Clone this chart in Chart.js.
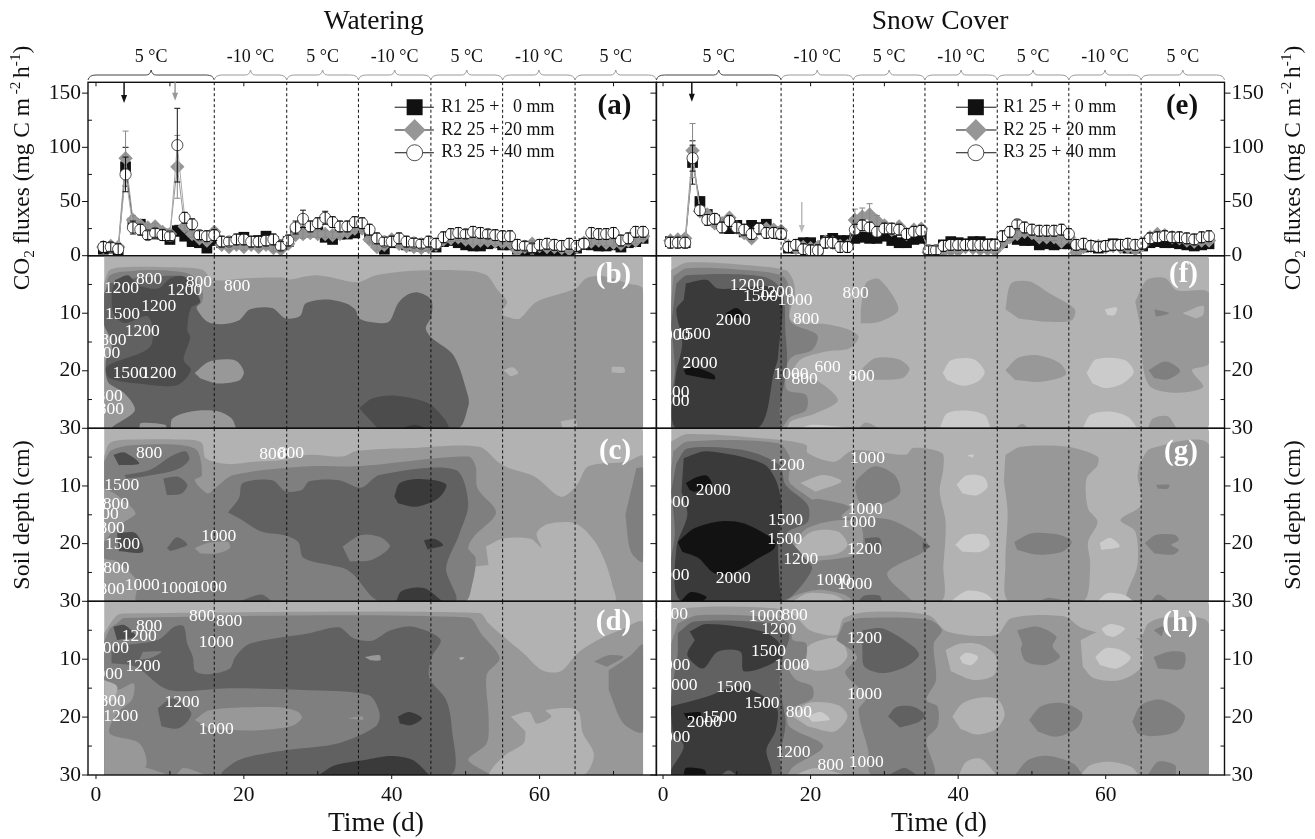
<!DOCTYPE html>
<html>
<head>
<meta charset="utf-8">
<title>Soil CO2 fluxes and concentrations</title>
<script src="https://cdn.jsdelivr.net/npm/chart.js@4/dist/chart.umd.js"></script>
<style>
  html, body { margin: 0; background: #fff; }
  canvas { position: absolute; left: 0; top: 0; }
</style>
</head>
<body>
<script>
// flux series, one value per day from day 1 to day 74
const fluxA_R1 = [6,7,5,82,30,29,22,20,20,15,23,18,13,12,7,14,12,12,13,17,12,14,18,13,10,13,22,22,22,22,17,15,20,20,21,25,18,12,6,12,12,10,9,9,9,8,13,14,12,10,9,9,11,12,10,10,6,5,6,5,5,5,4,3,7,11,10,9,9,10,8,12,13,16];
const fluxA_R2 = [8,9,8,90,33,28,26,27,22,20,82,27,20,16,14,22,10,8,10,8,10,8,10,7,6,11,19,20,21,20,20,19,20,22,25,25,15,8,10,15,11,9,8,7,8,10,15,16,17,15,13,14,14,13,12,12,5,8,11,9,8,8,7,6,8,12,13,14,12,12,11,14,14,18];
const fluxA_R3 = [8,8,6,75,26,24,19,21,19,18,102,35,29,19,18,19,13,13,15,15,13,13,14,15,9,14,26,34,27,30,35,31,27,27,31,30,24,16,13,13,16,13,12,11,13,11,17,20,21,20,22,21,20,19,18,18,10,9,7,10,11,10,9,11,9,11,21,20,20,21,14,16,22,22];
const errA_R1 = [3,3,3,18,4,3,3,3,3,3,5,4,3,3,3,3,3,3,3,3,3,3,3,3,3,3,3,3,3,3,3,3,3,3,3,3,3,3,3,3,3,3,3,3,3,3,3,3,3,3,3,3,3,3,3,3,3,3,3,3,3,3,3,3,3,3,3,3,3,3,3,3,3,3];
const errA_R2 = [3,3,3,25,4,3,3,3,3,3,29,4,3,3,3,3,3,3,3,3,3,3,3,3,3,3,3,4,3,3,3,3,3,3,3,3,3,3,3,3,3,3,3,3,3,3,3,3,3,3,3,3,3,3,3,3,3,3,3,3,3,3,3,3,3,3,3,3,3,3,3,3,3,3];
const errA_R3 = [5,4,5,16,6,5,4,4,5,4,34,5,5,4,5,5,5,4,5,5,5,5,5,5,4,5,6,8,5,5,6,5,5,5,5,5,5,5,4,5,5,5,4,4,5,5,5,5,5,4,5,5,4,5,5,5,5,4,4,5,5,5,5,5,5,5,5,5,5,5,5,5,5,5];
const fluxE_R1 = [13,13,12,86,50,38,33,30,25,28,22,28,26,29,22,20,7,7,12,12,6,14,16,14,14,16,17,16,16,18,14,12,12,15,16,2,5,10,13,12,11,13,13,11,11,12,18,15,14,14,10,11,10,11,11,6,8,9,7,9,11,10,7,7,9,12,13,12,12,11,10,9,10,11];
const fluxE_R2 = [14,15,16,97,41,38,30,30,35,26,21,16,25,25,24,23,9,7,8,7,8,13,12,9,9,33,36,38,32,28,24,27,20,24,25,3,2,4,5,5,8,7,6,6,5,12,17,20,22,21,17,17,17,13,17,3,8,9,9,8,9,8,8,6,10,17,20,19,17,16,14,13,14,14];
const fluxE_R3 = [12,12,12,90,42,33,34,26,32,26,24,20,25,21,21,20,8,10,6,5,5,12,12,8,8,24,28,26,22,25,25,24,20,22,23,5,5,9,10,10,10,10,10,10,10,18,22,29,26,24,23,23,23,24,20,10,11,9,8,9,10,10,11,10,11,16,17,18,17,17,16,15,17,18];
const errE_R1 = [3,3,3,20,4,3,3,3,3,3,3,3,3,3,3,3,3,3,3,3,3,3,3,3,3,3,3,3,3,3,3,3,3,3,3,3,3,3,3,3,3,3,3,3,3,3,3,3,3,3,3,3,3,3,3,3,3,3,3,3,3,3,3,3,3,3,3,3,3,3,3,3,3,3];
const errE_R2 = [3,3,3,25,4,3,3,3,3,3,3,3,3,3,3,3,3,3,3,3,3,3,3,3,3,10,8,10,5,3,3,3,3,3,3,3,3,3,3,3,3,3,3,3,3,3,3,3,3,3,3,3,3,3,3,3,3,3,3,3,3,3,3,3,3,3,3,3,3,3,3,3,3,3];
const errE_R3 = [5,5,5,12,5,5,5,5,5,5,5,5,5,5,5,5,5,5,5,5,5,5,5,5,5,5,5,5,5,5,5,5,5,5,5,4,4,5,5,5,5,5,5,5,5,5,5,4,5,5,5,5,5,5,5,5,5,5,5,5,5,5,5,5,5,5,5,5,5,5,5,5,5,5];
const fluxDays = [1,2,3,4,5,6,7,8,9,10,11,12,13,14,15,16,17,18,19,20,21,22,23,24,25,26,27,28,29,30,31,32,33,34,35,36,37,38,39,40,41,42,43,44,45,46,47,48,49,50,51,52,53,54,55,56,57,58,59,60,61,62,63,64,65,66,67,68,69,70,71,72,73,74];

const seriesNames = ['R1 25 +   0 mm', 'R2 25 + 20 mm', 'R3 25 + 40 mm'];
const changeDays = [16, 25.8, 35.5, 45.3, 55, 64.8];
const tempLabels = ['5 °C', '-10 °C', '5 °C', '-10 °C', '5 °C', '-10 °C', '5 °C'];
const xTicks = [0, 10, 20, 30, 40, 50, 60, 70];
const fluxTicks = [0, 25, 50, 75, 100, 125, 150];
const depthTicks = [5, 10, 15, 20, 25, 30];
const shades = ['#cbcbcb', '#b2b2b2', '#989898', '#7f7f7f', '#616161', '#4c4c4c', '#3a3a3a', '#121212'];
const baseShape = [1, 1.1,-1, 73.7,-1, 74,0.6, 74,29.4, 73.7,31, 1.1,31];

// contour regions, painted in order: [shade, day,depth, day,depth, ...]
const contourB = [baseShape,
  [2, 1.1,4.8, 1.85,2.5, 3.85,2, 9.35,2, 14.35,2.4, 15.85,4.2, 20.35,3.9, 25.35,3.8, 25.85,4.2, 29.85,3.4, 35.35,4.6, 37.85,3.4, 42.85,2.6, 50.35,2.6, 52.85,3.4, 54.35,6, 55.6,8, 54.85,10, 56.35,10.9, 57.35,10.9, 59.6,8, 64.85,5.7, 66.35,3.9, 68.85,3.6, 71.85,4.8, 74,5.85, 74,30, 1.1,30],
  [3, 1.3,6.4, 1.9,3.4, 5.4,2.6, 9.9,2.6, 13,3.4, 14.4,6, 14.2,8.3, 12.4,8.9, 1.2,9.9],
  [4, 1.85,4.8, 5.35,3.9, 12.85,3.9, 14.1,8, 13.6,9.1, 15.1,11.5, 17.1,11.9, 19.35,11.2, 20.85,9.3, 23.85,9.1, 25.6,10.9, 27.6,10.5, 28.35,8.3, 31.1,7.6, 33.85,8.3, 35.1,9.4, 35.6,10.9, 37.6,11.6, 39.6,11.5, 40.85,8.3, 42.1,6.8, 43.6,6.4, 45.35,7.7, 45.35,10.6, 44.6,12.6, 45.35,14.2, 48.35,17.3, 50.35,24.5, 50.35,26.2, 48.85,30, 2.35,30, 5.25,26.9, 3.85,23.9, 1.6,21.9, 1.35,18.1, 2.1,16.4, 1.85,14.1, 1.1,12, 1.1,6.5],
  [5, 2.6,4.2, 4.35,3.4, 5.6,5.1, 8.35,5.7, 10.1,3.9, 11.85,3.6, 13.35,6.5, 14.1,8, 12.85,9.1, 12.35,12.9, 12.75,14.2, 11.85,18.1, 12.85,19.9, 10.95,22.5, 6.35,22.3, 1.85,21.3, 1.45,19.3, 7.35,15.8, 7.1,10.6, 3.85,11.7, 2.35,10, 2.1,6.5],
  [2, 13.35,20.4, 15.35,18.4, 18.85,18.2, 20,20.2, 19.35,21.7, 16.35,22.2, 14.1,21.3],
  [2, 10.1,30, 10.35,28.3, 12.85,27.1, 16.35,27, 18.35,28.3, 18.95,30],
  [2, 5.85,30, 6.1,29.1, 9.35,29.4, 9.6,30],
  [5, 35.6,26.5, 37.35,24.8, 40.35,24.3, 44.85,25.6, 47.1,28.3, 47.6,30, 38.35,30, 37.1,28.6],
  [6, 41.35,30, 43.1,29.4, 44.6,30],
  [1, 55.1,19.9, 56.35,19.4, 57.1,20.4, 56.1,21],
  [1, 69.75,19.3, 71.35,19.4, 71.5,20.3, 69.75,20.3],
  [1, 62.85,28.8, 64.85,28.5, 64.95,30, 63.1,30]
];

const contourC = [baseShape,
  [2, 1.1,4.9, 1.85,2.6, 3.85,2, 12.85,2, 14.35,2.6, 14.85,5.2, 17.85,6.2, 21.35,5.8, 25.35,5.5, 28.85,4.6, 33.35,4.9, 35.35,3.9, 42.85,3.4, 51.85,3.2, 54.35,5.8, 55.85,6.9, 59.35,8.4, 62.35,11.6, 63.35,11.8, 65.1,9.8, 66.6,6.6, 71.85,5.8, 74,4.9, 74,30, 1.1,30],
  [1, 52.75,20.5, 55.1,19.1, 58.85,19.2, 60.25,20.7, 59.6,18.2, 61.1,16.6, 64.85,16.5, 67.35,19.4, 68.85,23.1, 69.85,27.2, 70.1,30, 50.1,30, 50.85,27.2, 50.85,24.3, 53.1,23.7],
  [3, 1.1,5.8, 2.1,3.8, 5.35,2.9, 13.35,3.5, 14.35,8.1, 13.35,9, 15.1,11.3, 16.1,10.4, 18.6,8.1, 28.85,6.6, 35.35,6.6, 50.35,4.9, 51.35,6.6, 51.6,10.4, 54.1,14.6, 51.1,18.8, 50.35,20.8, 51.35,22.5, 50.85,27.2, 49.85,30, 5.6,30, 5.6,26.6, 2.85,23.1, 1.1,22.5, 1.1,19.7, 3.85,16.2, 5.35,14.7, 2.85,11.6, 1.1,10.4],
  [4, 17.85,14.6, 19.35,12.1, 19.85,9.5, 23.85,9, 25.6,10.9, 27.85,10.7, 28.85,9.2, 32.85,9, 35.85,10.3, 38.35,8.1, 48.6,7.2, 50.35,13, 49.1,18.5, 47.35,24.3, 48.6,30, 38.35,30, 34.85,25.4, 33.6,24.3, 28.1,22.5, 27.35,19.7, 25.35,18.5, 22.35,17.9, 19.35,15.6],
  [3, 33.35,20.5, 35.85,18.5, 38.35,18.8, 39.75,20.5, 37.35,22.8, 34.35,23.1],
  [6, 40.35,11.8, 41.1,9.5, 43.85,8.8, 47.35,9.7, 46.35,12.1, 43.35,13.6, 40.85,13],
  [6, 44.35,19.4, 45.85,19.2, 46.95,20.3, 44.85,21],
  [6, 40.6,30, 41.35,28.2, 44.35,27.7, 46.85,30],
  [5, 2.35,4.6, 3.85,4.2, 5.85,6.1, 3.1,6.4],
  [4, 3.85,8.1, 7.35,7.2, 10.1,4.9, 12.1,4, 12.6,5.5, 10.85,7.2, 6.35,8.4, 4.1,8.7],
  [4, 9.1,8.7, 11.1,8.4, 12.35,9.8, 11.6,11.3, 9.6,11.6],
  [5, 2.85,18.2, 5.35,18.2, 6.35,21.4, 3.1,21.3],
  [4, 9.6,20.8, 10.95,18.9, 12.35,20.2, 10.1,21.3],
  [2, 13.35,20.8, 15.1,19.9, 17.85,19.7, 18.1,20.8, 16.35,21.7, 14.1,21.7],
  [4, 19.35,30, 22.35,28.8, 23.85,30],
  [3, 73.1,6.9, 74,6.9, 74,23.1, 72.35,21.4, 71.6,15]
];

const contourD = [baseShape,
  [2, 1.1,5.5, 2.85,2.4, 4.35,2.1, 51.85,2, 53.1,3.8, 55.1,6.1, 57.85,9, 60.35,11.9, 62.85,12.1, 65.1,9, 67.85,6.7, 70.85,5, 74,3.7, 74,30, 1.1,30],
  [1, 56.1,19.9, 58.6,19.1, 59.6,21.1, 61.6,19.9, 60.85,18.8, 65.1,18.8, 65.85,22.8, 67.35,26.5, 65.85,30, 53.35,30, 55.1,26.8, 57.85,24.5, 58.1,22.5],
  [3, 1.85,4.7, 2.85,3.8, 3.85,2.9, 50.35,2.8, 52.05,5.5, 54.6,9.8, 52.85,12.7, 53.1,19.9, 52.85,24.5, 50.35,27.4, 53.1,30, 1.1,30, 1.1,7],
  [2, 1.1,13.6, 2.85,15.3, 5.1,14.2, 4.85,17, 2.85,19.3, 1.85,22.8, 5.85,24.5, 6.85,28, 5.6,30, 1.1,30],
  [1, 1.1,13.6, 2.85,14.7, 2.35,17, 1.1,17.6],
  [3, 69.35,11.9, 72.35,9.3, 74,7.5, 74,22.5, 71.35,21.1, 69.35,15.3],
  [3, 67.35,10.4, 69.35,9.3, 71.35,9.6, 69.1,11.3],
  [4, 2.1,7.8, 8.35,6.7, 10.6,4.4, 11.85,4.3, 12.35,7.3, 13.1,9.6, 13.45,12.1, 15.35,12.6, 18.1,11.6, 18.85,9.6, 20.85,7.3, 28.85,5.5, 32.85,4.5, 34.85,6.4, 37.35,6.8, 39.85,5, 42.85,4.4, 46.6,6.6, 45.35,9.8, 45.1,13.3, 47.35,17, 48.1,21.6, 47.85,30, 17.1,30, 19.35,27.4, 25.85,25.7, 32.85,24.5, 37.85,21.6, 38.35,19.3, 36.85,16.2, 27.85,15.3, 17.85,15, 9.85,15.3, 5.35,11.3, 2.1,10.7],
  [4, 8.35,18.5, 10.35,16.8, 12.85,19.1, 12.35,20.8, 10.95,22, 8.85,21.6],
  [2, 13.35,20.5, 15.35,18.8, 24.85,18.3, 27.35,19.1, 27.85,20.2, 26.35,21.6, 21.35,22.3, 15.35,22],
  [3, 13.6,9.6, 16.1,9.3, 16.6,11.3, 14.35,12.6],
  [3, 6.35,8.7, 8.85,8.7, 7.35,9.8, 5.85,10.1],
  [6, 30.1,30, 32.35,28.3, 36.35,27.4, 39.85,26.7, 42.85,27.4, 45.1,30],
  [6, 40.85,19.9, 42.35,19.1, 44.1,20.2, 42.6,21.4, 41.1,21.1],
  [5, 2.35,4.4, 3.85,4.1, 5.35,6.1, 2.85,6.7],
  [2, 5.6,30, 6.1,28.6, 9.85,30],
  [2, 10.85,30, 11.85,28.8, 14.85,30],
  [2, 36.35,9.6, 38.35,9.3, 38.45,10.2, 37.1,10.2],
  [2, 34.1,20.2, 36.1,19.9, 36.1,20.5],
  [1, 49.1,9.7, 49.85,9.7, 49.35,10.2]
];

const contourF = [baseShape,
  [2, 1.1,2.5, 3.3,1.2, 11,1.6, 16.6,2.5, 17.6,4.2, 17.9,6.5, 17.3,11.2, 22.2,11.9, 25.3,12.9, 26.5,14.1, 25.3,16.1, 21.9,16.7, 18.6,18.1, 17.6,20.7, 20.7,21.6, 23.7,25.1, 20.7,27.4, 17.3,28.8, 16.6,30, 1.1,30],
  [3, 1.4,3.6, 3.3,2.2, 11,2.5, 16.3,3.6, 17.2,6.5, 17.3,11.5, 20.9,13.8, 20.2,16.4, 17.6,17.5, 16.8,19, 16.8,23.3, 19.4,24.2, 19.4,26.8, 17.3,28, 15.8,30, 1.1,30, 1.1,8],
  [4, 1.8,4.8, 3.3,3.4, 13.5,3.6, 16.1,6, 16.6,13.5, 16.8,18.7, 15.8,26.8, 15.8,30, 1.1,30, 1.6,20, 1.1,12],
  [6, 3.1,4.8, 5.9,4.2, 7.4,5.7, 15.6,6, 15.6,17.5, 15.1,19.9, 12.8,30, 1.8,30, 1.7,21, 2.6,15.2, 1.8,9.4, 2.8,7.7],
  [7, 8.5,10, 10,9.1, 11,10.6, 8.9,10.9],
  [7, 2.8,19.9, 4.1,19.3, 6.9,20.7, 7,21.5, 3.1,20.7],
  [2, 26.8,9.3, 27.5,4.8, 29.3,4.1, 31.9,9.3, 29.3,11.5, 26.8,11.8],
  [2, 27,19.6, 28.8,17.8, 31.9,18, 33.4,19.6, 32.4,21.3, 28.3,21.6],
  [2, 46.4,9.3, 47.2,4.8, 49.7,4.5, 52.3,6.5, 55.8,9.3, 55.4,11.2, 52.3,11.5, 48.2,10.9],
  [2, 46.4,19.9, 48.2,17.7, 50.8,17.3, 53.8,18.7, 54.6,20.7, 51.3,21.9, 47.7,21.6],
  [2, 26.5,30, 27.5,29, 29.3,30],
  [2, 47.7,30, 48.7,29.2, 49.5,30],
  [0, 37.9,20.4, 39,18.2, 42.1,18, 43.6,20.2, 42.6,21.9, 40.6,22.6, 38.5,21.6],
  [0, 57.4,20.4, 58.7,18, 62.5,18.1, 63.8,20.2, 62.3,22.2, 60,23, 58.2,22.2],
  [0, 37.5,30, 38.5,27.4, 41.1,26.9, 43.6,27.7, 44.4,30],
  [0, 56.9,30, 57.9,27.7, 60.5,27.1, 63,28, 64.3,30],
  [0, 59.9,9.3, 61.5,9, 61.2,10.3, 60.2,10.3],
  [0, 18.6,30, 20.2,29.4, 23.7,29.7, 25.3,30],
  [2, 64,8, 65.6,4.2, 68.1,3.9, 69.6,6, 74,6.5, 74,18.7, 71.7,19.9, 73.2,22.8, 69.6,23.8, 66.1,22.8, 65.1,19.6, 64.8,13],
  [3, 65.8,19.9, 68.1,18.4, 70.1,20, 68.4,21.5, 66.6,21.3],
  [1, 70.4,10, 73.2,8.7, 73.2,10.3, 72.2,10.9],
  [3, 66.6,9.3, 68.6,10, 66.8,10.6],
  [2, 65.7,30, 66.4,28.3, 68.4,27.9, 69.6,30]
];

const contourG = [baseShape,
  [2, 1.1,2.3, 3.3,1, 15.6,2, 19.4,2.9, 19.6,4.3, 23.2,5.8, 25.8,3.8, 32.9,4.6, 33.9,3.4, 37.8,4.3, 38,6.9, 37.5,11, 38.3,16.2, 38,23.7, 37.5,30, 1.1,30],
  [2, 46.4,4.6, 48.5,3.2, 54.8,3.2, 58.9,4.9, 58.9,6.4, 57.4,8.7, 57.6,13.9, 58.9,16.2, 57.6,19.7, 57.9,23.7, 56.9,30, 46.9,30, 46.4,23.7, 46.7,14.5, 46.2,9.2],
  [2, 64.5,6.4, 66.1,3.5, 74,2.9, 74,30, 63,30, 64.3,23.7, 64,17.9, 62,15.9, 64.8,13.3, 64.3,8.4],
  [3, 1.4,4, 3.3,2.3, 15.6,2.6, 17.3,5.5, 17.1,9.2, 19.6,11.6, 25.3,13.6, 24.2,15.3, 30.9,15.9, 36,20.5, 30.4,25.1, 33.4,29.5, 33.9,30, 16.6,30, 1.1,30, 1.1,7],
  [2, 17.1,9.5, 19.6,8.1, 22.7,8.1, 25.8,8.7, 22.7,11.6, 20.2,12.4],
  [1, 18.6,9.5, 21.7,8.1, 24.2,9.2, 20.7,11],
  [2, 17.1,20.8, 19.6,17.3, 24.2,15.9, 26.8,16.8, 26.8,21.4, 24.2,22.5, 19.6,23.1],
  [1, 17.6,20.8, 20.2,17.9, 23.7,17.9, 25,20.2, 23.7,21.7, 19.6,22.3],
  [3, 26.2,9, 28.6,6.6, 31.4,8.1, 32.1,11.3, 29.3,13.3, 26.8,13, 26,10.4],
  [4, 27.3,19.1, 29.3,19, 29.6,21.1, 27.8,21.7],
  [4, 26.5,30, 27.3,29, 29.3,29, 29.7,30],
  [4, 35.2,19.7, 36.2,20.5, 35.2,21.1],
  [2, 16.6,30, 18.1,28.9, 21.2,28, 24.7,28.9, 25.8,30],
  [1, 17.6,30, 19.6,28.6, 23.2,28.9, 24.7,30],
  [4, 1.8,6.1, 3.3,3.5, 11,3.8, 15.8,6.4, 16.6,9.8, 19.6,13.3, 19.6,16.2, 16.8,18.2, 18.9,22, 20.2,24.3, 17.6,28.9, 15.8,30, 1.1,30, 1.6,18, 1.1,11],
  [6, 2.8,5.2, 5.9,4, 13.5,6.1, 15.3,9, 16.1,13.9, 15.6,20.8, 15.8,27.2, 15.8,30, 2.5,30, 1.8,20.8, 3.3,15, 2.5,11],
  [7, 2,19.7, 4.3,17.3, 7.9,16.1, 11,16.5, 15.1,19.4, 15.1,20.8, 13,22.5, 9.4,25.1, 6.9,25.1, 4.8,22.5, 2.6,21.4],
  [7, 3.1,9.5, 4.3,8.6, 5.9,8.2, 6.6,9.8, 4.3,11, 3.6,10.7],
  [7, 2.4,30, 3.8,28.4, 5.9,29.2, 5.4,30],
  [0, 39.8,9.8, 41.1,8.2, 43.4,8.4, 44,10.1, 42.6,11.6, 40.6,11.3],
  [0, 39.6,20.2, 41.1,18.5, 43.6,18.5, 44.3,20.2, 43.1,21.4, 40.6,21.4],
  [0, 39,30, 41.1,28.2, 43.6,28.6, 44.9,30],
  [0, 58.9,30, 60.2,28.6, 62.5,28.9, 63.8,30],
  [0, 59.2,19.9, 60.6,19, 61.9,20.5, 59.4,21.1],
  [0, 41.2,4.7, 42.1,4.5, 42,5.1],
  [3, 47.6,19.7, 50,18.2, 53.8,18.5, 55.4,19.7, 54.1,21.4, 50.8,21.9, 48,21.1],
  [3, 65.3,19.9, 66.8,18.5, 69.4,18.5, 69.9,19.4, 68.9,20.2, 69.9,21.1, 69.1,21.9, 66.6,21.7],
  [3, 66.8,9.8, 68.6,9.8, 68.4,10.5, 67.1,10.5],
  [3, 51,30, 52.3,29.4, 54.8,30],
  [3, 66.1,30, 67.1,28.8, 68.6,30]
];

const contourH = [baseShape,
  [2, 1.1,3.2, 2.8,1.2, 15.1,1.2, 17.9,2.6, 19.9,5, 23.5,5.8, 24.5,2.9, 28.3,1.8, 36,2.4, 38.5,5.2, 45.2,5.8, 47.2,2.9, 54.3,2.6, 56.9,4.7, 64.5,6.4, 65.8,3.8, 68.1,2.8, 74,3.9, 74,30, 1.1,30],
  [1, 18.6,9.3, 20.2,7.3, 23.7,6.4, 25,9.3, 23.7,11.3, 20.7,12, 18.9,11],
  [1, 38.3,8.4, 40.3,7.3, 43.1,7.5, 45.2,9.6, 44.9,12.7, 42.1,13.6, 39,12.1],
  [1, 56.6,6.7, 59.4,5.2, 64.5,6.7, 64.8,11.3, 62,13.6, 58.4,13.3, 56.9,11.3],
  [1, 17.6,19.9, 19.6,17.6, 23.7,17.9, 25,19.9, 23.2,22.5, 19.6,21.6],
  [1, 39.2,19.9, 40.6,17.6, 43.1,16.6, 45.4,17, 46.3,19.6, 45.2,22, 42.6,23, 40.3,22],
  [1, 40.1,30, 41.1,27.7, 43.1,27.2, 45.2,30],
  [1, 56.6,30, 57.9,28.3, 60.5,27.7, 63.5,28.6, 64.5,30],
  [1, 17.9,30, 20.7,28.8, 24.7,30],
  [1, 1.1,13.6, 1.8,13, 2,16.5, 1.1,17],
  [3, 24.5,3.8, 26.8,2.9, 36,3.2, 37.8,5, 36.7,7.3, 37,13.6, 35.7,17, 37.2,18.2, 37.2,21.6, 35.7,24, 36.7,30, 28.3,30, 27.8,25.7, 26.5,18.8, 27.6,16.5, 24.7,12.4, 26.3,9.6, 23.5,6.7],
  [3, 2,3.8, 4.8,2.4, 15.6,2.9, 17.3,4.4, 17.6,6.7, 19.4,7.3, 19.1,10.7, 17.1,11.6, 18.1,13.6, 20.2,14.7, 20.2,16.8, 17.1,18.8, 17.1,21.6, 21.7,25, 17.6,28.6, 16.6,30, 1.1,30, 1.1,7.3],
  [4, 2,5.5, 4.3,3.5, 15.3,3.9, 17.1,5.8, 16.3,9.6, 15.8,14.2, 16.6,21.1, 15.8,26.8, 15.8,30, 1.1,30, 1.1,17, 2,9],
  [6, 3.6,5.2, 5.9,3.9, 13.5,5.2, 15.8,7.3, 15.6,10.1, 11,12.1, 10.5,8.7, 7.4,8.7, 5.4,11.6, 3.3,9.3, 4.3,6.7],
  [6, 1,18.2, 5.9,16.5, 10.5,14.7, 15.3,18.2, 15.3,22.2, 14,25.7, 14.5,30, 1.1,30, 2.8,25.1, 1.3,22.5],
  [7, 2.8,30, 3.1,28.8, 5.6,29.1, 5.9,30],
  [7, 2.8,19.3, 5.1,19.2, 4.8,20.5, 3.3,20.5],
  [4, 7.9,30, 8.9,29.2, 9.9,30],
  [4, 27,5, 29.8,4.7, 33.9,7.8, 34.7,9.3, 32.9,11.3, 29.8,12.4, 27.3,11.3, 27,8.4],
  [4, 30.5,19.9, 31.6,18.3, 33.9,18.2, 35.5,19.6, 34.7,20.8, 32.1,21.8],
  [3, 48,5, 50.8,4.4, 53.3,6.1, 52.8,7.8, 53.8,9.6, 51.8,11, 49.2,10.4, 48.5,8.4, 48.7,7.3],
  [3, 49.6,20.5, 51.3,18.1, 54.3,17.6, 56.8,19.3, 56.1,21.9, 53.3,23.4, 50.8,22.5],
  [3, 47.7,30, 49.5,27.4, 52.3,26.7, 55.6,28, 56.9,30],
  [4, 30.6,30, 32.7,28.8, 34.4,30],
  [3, 63.6,20.8, 64.8,17.9, 67.6,17, 70.7,19.6, 69.6,22.5, 66.1,23.3, 64.3,22.8],
  [3, 66.5,9.6, 68.6,8.7, 70.7,9, 70.4,11.6, 67.1,11.6],
  [3, 66.5,5, 67.9,4.3, 67.6,6.1],
  [3, 65.7,30, 67.1,27.7, 69.4,28.3, 69.5,30],
  [0, 40.2,9.7, 41.1,8.9, 42.7,9.6, 41.8,11, 40.6,10.7],
  [0, 59.4,4.7, 60.7,3.9, 62.6,4.7, 61.2,6.1, 60,5.8],
  [0, 58.6,9.6, 60,8.1, 62,8.4, 63.4,9.8, 61.5,11.6, 59.2,11],
  [0, 19.6,19.9, 21.4,19.1, 22.6,20.4, 20.2,20.8]
];

// contour labels: [day, depth, text]
const labelsB = [[7.2,4.2,'800'],[3.45,5.7,'1200'],[12,6.1,'1200'],[13.9,4.7,'800'],[19.1,5.4,'800'],[8.5,8.9,'1200'],[3.6,10.2,'1500'],[6.25,13.1,'1200'],[2.35,14.8,'800'],[1.5,17,'800'],[4.6,20.4,'1500'],[8.5,20.4,'1200'],[1.85,24.5,'800'],[2,26.7,'800']];
const labelsC = [[7.2,4.3,'800'],[23.85,4.5,'800'],[26.35,4.3,'800'],[3.5,9.9,'1500'],[2.7,13.2,'800'],[1.3,15,'800'],[2.1,17.3,'800'],[3.6,20.1,'1500'],[16.6,18.8,'1000'],[2.75,24.3,'800'],[2.1,28,'800'],[6.25,27.2,'1000'],[11.1,27.7,'1000'],[15.35,27.6,'1000']];
const labelsD = [[7.2,4.3,'800'],[5.85,6.1,'1200'],[2.1,8.1,'1000'],[1.25,12.6,'1000'],[6.35,11.2,'1200'],[14.35,2.65,'800'],[18,3.5,'800'],[16.25,7.1,'1000'],[2.25,17.3,'800'],[3.35,19.8,'1200'],[11.65,17.5,'1200'],[16.25,22.1,'1000']];
const labelsF = [[11.4,5.2,'1200'],[15.3,6.4,'1200'],[13.2,7.1,'1500'],[17.9,7.8,'1000'],[9.5,11.2,'2000'],[19.4,11,'800'],[4.1,13.6,'1500'],[1.3,13.8,'1000'],[5,18.7,'2000'],[17.35,20.6,'1000'],[19.2,21.5,'800'],[22.3,19.5,'600'],[26.9,20.9,'800'],[26.1,6.5,'800'],[1.8,23.7,'800'],[1.8,25.4,'800']];
const labelsG = [[16.85,6.4,'1200'],[27.7,5.3,'1000'],[6.8,10.7,'2000'],[1.2,12.8,'1000'],[27.4,14,'1000'],[26.5,16.4,'1000'],[16.6,15.9,'1500'],[16.5,19.2,'1500'],[18.65,22.8,'1200'],[27.3,21,'1200'],[23.1,26.3,'1000'],[26,27,'1000'],[9.5,26,'2000'],[1.2,25.5,'1000']];
const labelsH = [[1,2.25,'1000'],[14,2.65,'1000'],[17.85,2.5,'800'],[15.7,4.8,'1200'],[27.3,6.4,'1200'],[14.3,8.6,'1500'],[17.45,11,'1000'],[1.3,11,'1000'],[2.3,14.45,'1000'],[9.6,14.9,'1500'],[13.4,17.6,'1500'],[18.4,19.2,'800'],[7.65,20,'1500'],[5.6,20.9,'2000'],[1.3,23.5,'1000'],[27.3,16,'1000'],[17.6,26.1,'1200'],[22.7,28.3,'800'],[27.55,27.9,'1000']];

const FONT = '"Liberation Serif"';
const INK = '#111';
const AXIS_ROOM = 50;
const LEFT_SIDE = { left: 88, right: 656.4, xMin: -1.08, xMax: 75.8, axis: 'left' };
const RIGHT_SIDE = { left: 656.4, right: 1224.5, xMin: -0.9, xMax: 76.1, axis: 'right' };

function contourDatasets(shapes) {
  const sets = shapes.map(function (s) {
    const pts = [];
    for (let i = 1; i < s.length; i += 2) pts.push({ x: s[i], y: s[i + 1] });
    return { data: pts, showLine: true, fill: 'shape', backgroundColor: shades[s[0]], borderWidth: 0, pointRadius: 0, tension: s === baseShape ? 0 : 0.3 };
  });
  // first dataset is painted last
  return sets.reverse();
}

function changeLines(yMin, yMax) {
  return changeDays.map(function (d) {
    return { data: [{ x: d, y: yMin }, { x: d, y: yMax }], showLine: true, borderColor: INK, borderWidth: 1, borderDash: [3, 2.5], pointRadius: 0, fill: false };
  });
}

function fluxDataset(values, errors, style) {
  return Object.assign({
    data: fluxDays.map(function (d, i) { return { x: d, y: values[i] }; }),
    errors: errors, showLine: true, borderWidth: 1, fill: false, clip: false
  }, style);
}

const R1_STYLE = { borderColor: '#444', pointStyle: 'rect', pointRadius: 7.6, pointBackgroundColor: INK, pointBorderColor: INK, pointBorderWidth: 0, errColor: INK, legendRadius: 11.3 };
const R2_STYLE = { borderColor: '#999', pointStyle: 'rectRot', pointRadius: 7.2, pointBackgroundColor: '#969696', pointBorderColor: '#969696', pointBorderWidth: 0, errColor: '#888', legendRadius: 11 };
const R3_STYLE = { borderColor: '#aaa', pointStyle: 'circle', pointRadius: 5.6, pointBackgroundColor: '#fff', pointBorderColor: '#222', pointBorderWidth: 0.8, errColor: INK, legendRadius: 8 };

// spline overshoot must not leave the sampled time range
const contourClip = {
  id: 'contourClip',
  beforeDatasetsDraw(chart) {
    const cfg = chart.options.plugins.decor;
    if (cfg.flux) return;
    const a = chart.chartArea, x = chart.scales.x, ctx = chart.ctx;
    ctx.save();
    ctx.beginPath();
    ctx.rect(x.getPixelForValue(1.1), a.top, x.getPixelForValue(74) - x.getPixelForValue(1.1), a.bottom - a.top);
    ctx.clip();
  },
  afterDatasetsDraw(chart) {
    if (!chart.options.plugins.decor.flux) chart.ctx.restore();
  }
};

// error bars go on top of the marks, as in the figure
const errorBars = {
  id: 'errorBars',
  afterDatasetDraw(chart, args) {
    const ds = chart.data.datasets[args.index];
    if (!ds.errors) return;
    const ctx = chart.ctx, x = chart.scales.x, y = chart.scales.y;
    ctx.save();
    ctx.strokeStyle = ds.errColor;
    ctx.lineWidth = 1;
    ds.data.forEach(function (p, i) {
      const px = x.getPixelForValue(p.x), hi = y.getPixelForValue(p.y + ds.errors[i]), lo = y.getPixelForValue(Math.max(p.y - ds.errors[i], 0));
      ctx.beginPath();
      ctx.moveTo(px, hi); ctx.lineTo(px, lo);
      ctx.moveTo(px - 3, hi); ctx.lineTo(px + 3, hi);
      ctx.moveTo(px - 3, lo); ctx.lineTo(px + 3, lo);
      ctx.stroke();
    });
    ctx.restore();
  }
};

// frame, tick marks, labels and the rest of the annotations
const decor = {
  id: 'decor',
  afterDatasetsDraw(chart) {
    const ctx = chart.ctx, a = chart.chartArea, cfg = chart.options.plugins.decor;
    const x = chart.scales.x, y = chart.scales.y;
    ctx.save();
    ctx.textBaseline = 'middle';

    if (cfg.labels) {
      ctx.fillStyle = '#fff';
      ctx.font = '17.5px ' + FONT;
      ctx.textAlign = 'center';
      cfg.labels.forEach(function (l) {
        ctx.fillText(l[2], x.getPixelForValue(l[0]), y.getPixelForValue(l[1]));
      });
    }

    ctx.strokeStyle = INK;
    ctx.lineWidth = 1.4;
    ctx.strokeRect(a.left, a.top, a.right - a.left, a.bottom - a.top);
    ctx.lineWidth = 1;

    // y ticks: long ones outside on the axis side, short ones inside, all inside on the far side
    const axisX = cfg.axis === 'left' ? a.left : a.right;
    const sign = cfg.axis === 'left' ? 1 : -1;
    cfg.yTicks.forEach(function (v) {
      const py = y.getPixelForValue(v);
      const major = v % cfg.yMajor === 0;
      ctx.beginPath();
      if (major) { ctx.moveTo(axisX, py); ctx.lineTo(axisX - sign * 6, py); }
      else { ctx.moveTo(axisX, py); ctx.lineTo(axisX + sign * 4, py); }
      if (cfg.axis === 'left') { ctx.moveTo(a.right, py); ctx.lineTo(a.right - (major ? 6 : 4), py); }
      ctx.stroke();
    });
    if (cfg.topTicks) xTicks.forEach(function (v) {
      const px = x.getPixelForValue(v);
      ctx.beginPath(); ctx.moveTo(px, a.top); ctx.lineTo(px, a.top + 4); ctx.stroke();
    });
    if (cfg.bottomTicks) xTicks.forEach(function (v) {
      const px = x.getPixelForValue(v);
      ctx.beginPath(); ctx.moveTo(px, a.bottom);
      ctx.lineTo(px, v % 20 === 0 ? a.bottom + 4 : a.bottom - 4);
      ctx.stroke();
    });

    ctx.font = 'bold 29px ' + FONT;
    ctx.textAlign = 'center';
    ctx.fillStyle = cfg.letterColor;
    ctx.fillText(cfg.letter, cfg.letterX, cfg.letterY);

    if (cfg.flux) drawFluxExtras(chart, cfg);
    if (cfg.xTitle) {
      ctx.fillStyle = INK;
      ctx.font = '27.5px ' + FONT;
      ctx.fillText(cfg.xTitle, cfg.xTitleX, 824);
    }
    ctx.restore();
  }
};

function drawFluxExtras(chart, cfg) {
  const ctx = chart.ctx, x = chart.scales.x, y = chart.scales.y;
  // brace and temperature label over each phase
  const edges = [cfg.xMin].concat(changeDays, [cfg.xMax]);
  tempLabels.forEach(function (t, i) {
    const x0 = x.getPixelForValue(edges[i]), x1 = x.getPixelForValue(edges[i + 1]), mid = (x0 + x1) / 2;
    ctx.strokeStyle = i === 0 ? '#444' : '#999';
    ctx.lineWidth = 1;
    ctx.beginPath();
    ctx.moveTo(x0, 80);
    ctx.quadraticCurveTo(x0 + 1, 75, x0 + 8, 75);
    ctx.lineTo(mid - 5, 75);
    ctx.quadraticCurveTo(mid - 1, 75, mid, 70);
    ctx.quadraticCurveTo(mid + 1, 75, mid + 5, 75);
    ctx.lineTo(x1 - 8, 75);
    ctx.quadraticCurveTo(x1 - 1, 75, x1, 80);
    ctx.stroke();
    ctx.fillStyle = INK;
    ctx.font = '18px ' + FONT;
    ctx.textAlign = 'center';
    ctx.fillText(t, mid, 57);
  });

  ctx.font = '27.5px ' + FONT;
  ctx.fillText(cfg.flux.title, cfg.flux.titleX, 22);

  // arrows: [day, from, to, colour]
  cfg.flux.arrows.forEach(function (r) {
    const px = x.getPixelForValue(r[0]), y0 = y.getPixelForValue(r[1]), y1 = y.getPixelForValue(r[2]);
    ctx.strokeStyle = r[3];
    ctx.fillStyle = r[3];
    ctx.lineWidth = 1.5;
    ctx.beginPath(); ctx.moveTo(px, y0); ctx.lineTo(px, y1 - 5); ctx.stroke();
    ctx.beginPath(); ctx.moveTo(px - 3, y1 - 8); ctx.lineTo(px + 3, y1 - 8); ctx.lineTo(px, y1); ctx.closePath(); ctx.fill();
  });

  // legend
  const styles = [R1_STYLE, R2_STYLE, R3_STYLE];
  const rows = [137, 116, 95];
  seriesNames.forEach(function (name, i) {
    const py = y.getPixelForValue(rows[i]);
    ctx.strokeStyle = INK;
    ctx.lineWidth = 1;
    ctx.beginPath();
    ctx.moveTo(x.getPixelForValue(cfg.flux.legend[0]), py);
    ctx.lineTo(x.getPixelForValue(cfg.flux.legend[2]), py);
    ctx.stroke();
    const s = styles[i];
    ctx.fillStyle = s.pointBackgroundColor;
    ctx.strokeStyle = s.pointBorderColor;
    ctx.lineWidth = s.pointBorderWidth;
    Chart.helpers.drawPoint(ctx, { pointStyle: s.pointStyle, radius: s.legendRadius, borderWidth: s.pointBorderWidth }, x.getPixelForValue(cfg.flux.legend[1]), py);
    ctx.fillStyle = INK;
    ctx.font = '18px ' + FONT;
    ctx.textAlign = 'left';
    ctx.fillText(name, x.getPixelForValue(cfg.flux.legend[3]), py);
  });
  ctx.textAlign = 'center';
}

// page level axis titles, with real sub and superscripts
const axisTitles = {
  id: 'axisTitles',
  afterDraw(chart) {
    const cfg = chart.options.plugins.decor;
    if (!cfg.sideTitles) return;
    const ctx = chart.ctx;
    cfg.sideTitles.forEach(function (t) {
      ctx.save();
      ctx.translate(t.x, t.y);
      ctx.rotate(-Math.PI / 2);
      ctx.fillStyle = INK;
      ctx.textBaseline = 'alphabetic';
      ctx.textAlign = 'left';
      let total = 0;
      t.parts.forEach(function (p) {
        ctx.font = (p[1] ? t.size * 0.65 : t.size) + 'px ' + FONT;
        total += ctx.measureText(p[0]).width;
      });
      let pos = -total / 2;
      t.parts.forEach(function (p) {
        ctx.font = (p[1] ? t.size * 0.65 : t.size) + 'px ' + FONT;
        ctx.fillText(p[0], pos, (p[1] || 0) + 7);
        pos += ctx.measureText(p[0]).width;
      });
      ctx.restore();
    });
  }
};

const FLUX_TITLE = [['CO'], ['2', 5], [' fluxes (mg C m'], [' -2 ', -9], ['h'], ['-1', -9], [')']];
const DEPTH_TITLE = [['Soil depth (cm)']];

function makePanel(side, top, bottom, datasets, yScale, extra) {
  const canvas = document.createElement('canvas');
  canvas.width = 1315;
  canvas.height = 839;
  document.body.appendChild(canvas);
  const xRoom = extra.bottomTicks ? AXIS_ROOM : 0;
  return new Chart(canvas, {
    type: 'scatter',
    data: { datasets: datasets },
    plugins: [contourClip, errorBars, decor, axisTitles],
    options: {
      responsive: false,
      animation: false,
      events: [],
      layout: { padding: {
        left: side.left - (side.axis === 'left' ? AXIS_ROOM : 0),
        right: 1315 - side.right - (side.axis === 'right' ? AXIS_ROOM : 0),
        top: top,
        bottom: 839 - bottom - xRoom
      } },
      plugins: {
        legend: { display: false },
        tooltip: { enabled: false },
        decor: Object.assign({ axis: side.axis, xMin: side.xMin, xMax: side.xMax, letterColor: '#fff' }, extra)
      },
      scales: {
        x: {
          type: 'linear', min: side.xMin, max: side.xMax,
          display: !!extra.bottomTicks,
          grid: { display: false, drawTicks: false }, border: { display: false },
          afterBuildTicks(s) { s.ticks = xTicks.filter(function (v) { return v % 20 === 0; }).map(function (v) { return { value: v }; }); },
          afterFit(s) { s.height = xRoom; },
          ticks: { color: INK, font: { family: FONT, size: 21.5 }, padding: 7, autoSkip: false, maxRotation: 0 }
        },
        y: Object.assign({
          type: 'linear', position: side.axis,
          grid: { display: false, drawTicks: false }, border: { display: false },
          afterFit(s) { s.width = AXIS_ROOM; }
        }, yScale)
      }
    }
  });
}

function depthPanel(side, top, bottom, contour, labels, extra) {
  return makePanel(side, top, bottom,
    changeLines(0, 30).concat(contourDatasets(contour)),
    {
      min: 0, max: 30, reverse: true,
      afterBuildTicks(s) { s.ticks = [10, 20, 30].map(function (v) { return { value: v }; }); },
      ticks: { color: INK, font: { family: FONT, size: 21.5 }, padding: 7, autoSkip: false }
    },
    Object.assign({ labels: labels, yTicks: depthTicks, yMajor: 10 }, extra));
}

function fluxPanel(side, sets, extra) {
  return makePanel(side, 82.3, 255.7,
    changeLines(0, 160).concat(sets),
    {
      min: 0, max: 160,
      afterBuildTicks(s) { s.ticks = [0, 50, 100, 150].map(function (v) { return { value: v }; }); },
      ticks: { color: INK, font: { family: FONT, size: 21.5 }, padding: 7, autoSkip: false }
    },
    Object.assign({ yTicks: fluxTicks, yMajor: 50, topTicks: true, letterColor: INK }, extra));
}

fluxPanel(LEFT_SIDE,
  [fluxDataset(fluxA_R3, errA_R3, R3_STYLE), fluxDataset(fluxA_R2, errA_R2, R2_STYLE), fluxDataset(fluxA_R1, errA_R1, R1_STYLE)],
  {
    letter: '(a)', letterX: 614.5, letterY: 107,
    flux: { title: 'Watering', titleX: 373.7, arrows: [[3.8, 160, 141, '#111'], [10.7, 160, 143, '#999']], legend: [40.4, 43.1, 45.7, 46.7] },
    sideTitles: [{ x: 22, y: 168, size: 23.4, parts: FLUX_TITLE }, { x: 22, y: 515, size: 24, parts: DEPTH_TITLE }]
  });
fluxPanel(RIGHT_SIDE,
  [fluxDataset(fluxE_R3, errE_R3, R3_STYLE), fluxDataset(fluxE_R2, errE_R2, R2_STYLE), fluxDataset(fluxE_R1, errE_R1, R1_STYLE)],
  {
    letter: '(e)', letterX: 1182, letterY: 107,
    flux: { title: 'Snow Cover', titleX: 940, arrows: [[3.9, 160, 142, '#111'], [18.8, 49.5, 21, '#bbb']], legend: [39.7, 42.4, 45.2, 46.1] },
    sideTitles: [{ x: 1293, y: 168, size: 23.4, parts: FLUX_TITLE }, { x: 1293, y: 515, size: 24, parts: DEPTH_TITLE }]
  });

depthPanel(LEFT_SIDE, 255.7, 428.3, contourB, labelsB, { letter: '(b)', letterX: 613.5, letterY: 276 });
depthPanel(LEFT_SIDE, 428.3, 601.3, contourC, labelsC, { letter: '(c)', letterX: 615, letterY: 452 });
depthPanel(LEFT_SIDE, 601.3, 775, contourD, labelsD, { letter: '(d)', letterX: 613.5, letterY: 623, bottomTicks: true, xTitle: 'Time (d)', xTitleX: 376 });
depthPanel(RIGHT_SIDE, 255.7, 428.3, contourF, labelsF, { letter: '(f)', letterX: 1183.5, letterY: 275 });
depthPanel(RIGHT_SIDE, 428.3, 601.3, contourG, labelsG, { letter: '(g)', letterX: 1181, letterY: 453 });
depthPanel(RIGHT_SIDE, 601.3, 775, contourH, labelsH, { letter: '(h)', letterX: 1180, letterY: 624, bottomTicks: true, xTitle: 'Time (d)', xTitleX: 939 });
</script>
</body>
</html>
